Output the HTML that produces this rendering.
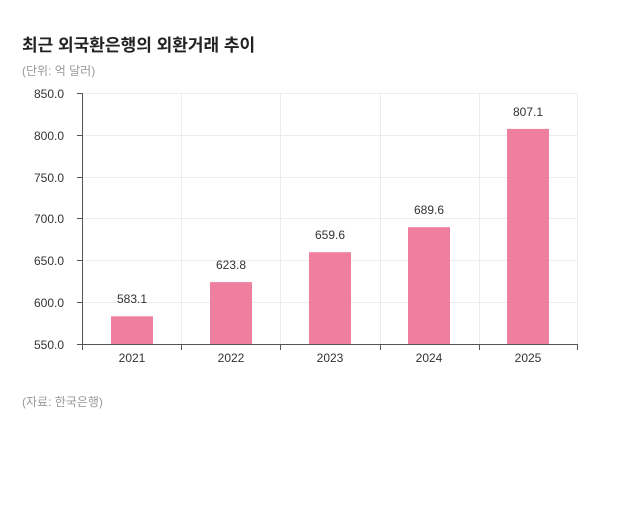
<!DOCTYPE html>
<html><head><meta charset="utf-8"><style>
body{margin:0;background:#fff;width:640px;height:527px;overflow:hidden}
svg{display:block}
text{font-family:"Liberation Sans","Noto Sans CJK KR",sans-serif}
</style></head><body>
<svg width="640" height="527" xmlns="http://www.w3.org/2000/svg">
<text x="22" y="51" font-size="17" font-weight="bold" fill="#222">최근 외국환은행의 외환거래 추이</text>
<text x="22" y="75" font-size="12" fill="#999">(단위: 억 달러)</text>
<g stroke="#ececec" stroke-width="1">
<line x1="82" y1="93.5" x2="578" y2="93.5"/>
<line x1="82" y1="135.5" x2="578" y2="135.5"/>
<line x1="82" y1="177.5" x2="578" y2="177.5"/>
<line x1="82" y1="218.5" x2="578" y2="218.5"/>
<line x1="82" y1="260.5" x2="578" y2="260.5"/>
<line x1="82" y1="302.5" x2="578" y2="302.5"/>
<line x1="181.5" y1="93" x2="181.5" y2="344"/>
<line x1="280.5" y1="93" x2="280.5" y2="344"/>
<line x1="380.5" y1="93" x2="380.5" y2="344"/>
<line x1="479.5" y1="93" x2="479.5" y2="344"/>
<line x1="577.5" y1="93" x2="577.5" y2="344"/>
</g>
<g fill="#ee7f9f">
<rect x="111" y="316.3" width="42" height="27.7"/>
<rect x="210" y="282.1" width="42" height="61.9"/>
<rect x="309" y="252.2" width="42" height="91.8"/>
<rect x="408" y="227.2" width="42" height="116.8"/>
<rect x="507" y="128.9" width="42" height="215.1"/>
</g>
<g stroke="#555" stroke-width="1">
<line x1="82.5" y1="93" x2="82.5" y2="344"/>
<line x1="82" y1="344.5" x2="578" y2="344.5"/>
<line x1="77" y1="93.5" x2="82" y2="93.5"/>
<line x1="77" y1="135.5" x2="82" y2="135.5"/>
<line x1="77" y1="177.5" x2="82" y2="177.5"/>
<line x1="77" y1="218.5" x2="82" y2="218.5"/>
<line x1="77" y1="260.5" x2="82" y2="260.5"/>
<line x1="77" y1="302.5" x2="82" y2="302.5"/>
<line x1="77" y1="344.5" x2="82" y2="344.5"/>
<line x1="82.5" y1="344" x2="82.5" y2="350"/>
<line x1="181.5" y1="344" x2="181.5" y2="350"/>
<line x1="280.5" y1="344" x2="280.5" y2="350"/>
<line x1="380.5" y1="344" x2="380.5" y2="350"/>
<line x1="479.5" y1="344" x2="479.5" y2="350"/>
<line x1="577.5" y1="344" x2="577.5" y2="350"/>
</g>
<g font-size="12" fill="#333" text-anchor="end">
<text x="64" y="98">850.0</text>
<text x="64" y="140">800.0</text>
<text x="64" y="182">750.0</text>
<text x="64" y="223">700.0</text>
<text x="64" y="265">650.0</text>
<text x="64" y="307">600.0</text>
<text x="64" y="349">550.0</text>
</g>
<g font-size="12" fill="#333" text-anchor="middle">
<text x="132" y="362">2021</text>
<text x="231" y="362">2022</text>
<text x="330" y="362">2023</text>
<text x="429" y="362">2024</text>
<text x="528" y="362">2025</text>
<text x="132" y="303">583.1</text>
<text x="231" y="269">623.8</text>
<text x="330" y="239">659.6</text>
<text x="429" y="214">689.6</text>
<text x="528" y="116">807.1</text>
</g>
<text x="22" y="406" font-size="12" fill="#999">(자료: 한국은행)</text>
</svg>
</body></html>
